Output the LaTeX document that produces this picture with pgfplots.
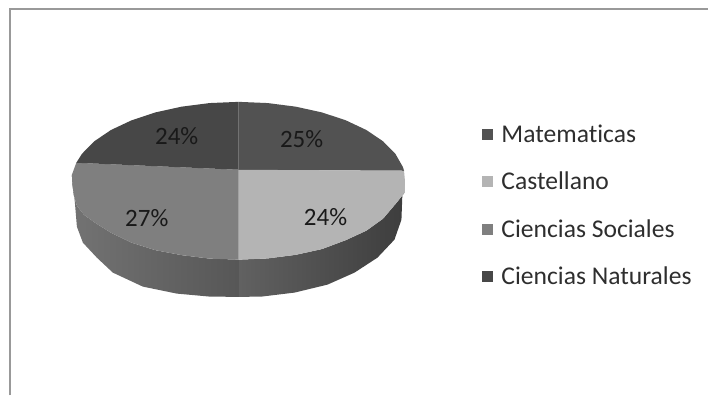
\documentclass[border=0pt]{standalone}
\usepackage{fontspec}
\setmainfont{Carlito}[Ligatures=NoCommon]
\usepackage{pgfplots}
\pgfplotsset{compat=1.18}
\definecolor{matem}{HTML}{525252}
\definecolor{caste}{HTML}{B4B4B4}
\definecolor{socia}{HTML}{7F7F7F}
\definecolor{natur}{HTML}{474747}
\definecolor{inkgray}{HTML}{2E2E2E}
\begin{document}
\begin{tikzpicture}
\begin{axis}[
  scale only axis, width=709pt, height=396pt,
  xmin=0, xmax=709, ymin=0, ymax=396, y dir=reverse,
  hide axis, clip=false,
  legend style={at={(axis cs:482,124.5)}, anchor=north west, draw=none, fill=none,
    font=\fontsize{25.6}{30}\selectfont\color{inkgray}, row sep=28.4pt,
    inner sep=0pt, legend cell align=left, nodes={inner sep=0pt}},
  legend image code/.code={\fill[#1] (0pt,-5.5pt) rectangle (11pt,5.5pt); \path (20pt,0pt);},
  legend columns=1,
]
% sheet extent
\path (axis cs:0,0) (axis cs:709,396);
% rim of the disc, left and right of the front seam
\addplot[forget plot, draw=none, left color=black!55, right color=black!66] coordinates {
  (72,175)(72.5,185)(74,196)(77,206)(84,215)(95,223)(111,233)(131.7,243)(155.5,250.5)(181.9,255.5)(210,259)(239.5,260)
  (239.5,297.3)(210,297)(177,294)(143,287)(113,273)(97,258)(83,243)(77,227)(75,203)} --cycle;
\addplot[forget plot, draw=none, left color=black!62, right color=black!76] coordinates {
  (239.5,260)(268,258.8)(296.1,255.2)(322.5,249.4)(346.3,240.5)(366.9,231)(383.6,219)(398,202)(405,193)(405,181)
  (403,193)(402,220)(395,240)(378,258)(355,273)(328,285)(295,293)(262,297)(239.5,297.3)} --cycle;
% top face, one sector per subject
\addplot[draw=none, fill=matem] coordinates {
  (239,170)(239,102)(268,103.2)(296.1,106.8)(322.5,112.6)(346.3,120.5)(366.9,130.2)(383.6,141.5)(395.9,154)(403.5,167.3)(404.6,171)} --cycle;
\addlegendentry{Matematicas}
\addplot[draw=none, fill=caste] coordinates {
  (239,170)(404.6,171)(405.5,181)(405,193)(398,202)(383.6,219)(366.9,231)(346.3,240.5)(322.5,249.4)(296.1,255.2)(268,258.8)(239,260)} --cycle;
\addlegendentry{Castellano}
\addplot[draw=none, fill=socia] coordinates {
  (239,170)(239,260)(210,259)(181.9,255.5)(155.5,250.5)(131.7,243)(111,233)(95,223)(84,215)(77,206)(74,196)(72.5,185)(72,175)(76.4,163)} --cycle;
\addlegendentry{Ciencias Sociales}
\addplot[draw=none, fill=natur] coordinates {
  (239,170)(76.4,163)(82.1,154)(94.4,141.5)(111.1,130.2)(131.7,120.5)(155.5,112.6)(181.9,106.8)(210,103.2)(239,102)} --cycle;
\addlegendentry{Ciencias Naturales}
% percentage labels
\node[font=\fontsize{25}{29}\selectfont, text=black!90] at (axis cs:302,139) {25\%};
\node[font=\fontsize{25}{29}\selectfont, text=black!90] at (axis cs:326,217) {24\%};
\node[font=\fontsize{25}{29}\selectfont, text=black!90] at (axis cs:147,218) {27\%};
\node[font=\fontsize{25}{29}\selectfont, text=black!90] at (axis cs:177,136) {24\%};
% frame of the sheet
\draw[black!40, line width=2pt] (axis cs:10,396) -- (axis cs:10,9) -- (axis cs:709,9);
\end{axis}
\end{tikzpicture}
\end{document}
